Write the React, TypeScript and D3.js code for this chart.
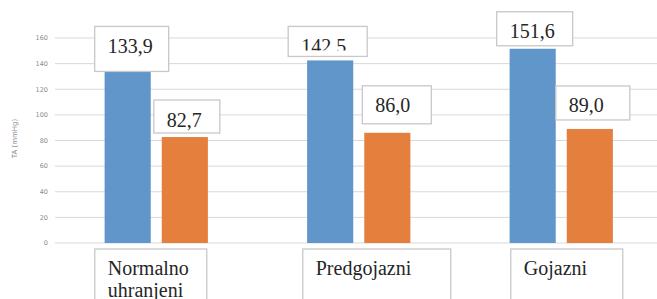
import { useEffect, useRef } from 'react'
import * as d3 from 'd3'

const categories = ['Normalno uhranjeni', 'Predgojazni', 'Gojazni']
const seriesNames = ['sistolni', 'dijastolni']
const systolic = [133.9, 142.5, 151.6]
const diastolic = [82.7, 86.0, 89.0]
const yTicks = [0, 20, 40, 60, 80, 100, 120, 140, 160]

// hand-placed label boxes (offsets from bar top centre): [dx, gap, w, h, visible text height]
const labelLayout = [
  [[4, 0, 74, 45, 45], [2, -4, 66, 33, 33]],
  [[-2.5, -4, 79, 30, 24], [9.5, -9, 69, 38, 38]],
  [[2, -3, 76, 34, 34], [3, -9, 74, 34, 34]]
]
// category label boxes: [dx from band centre, width]
const catLayout = [[-5.5, 112], [18, 148], [5.5, 112]]

const colors = ['#6096c9', '#e47f3e']

const App = () => {
  const svgRef = useRef<SVGSVGElement>(null)

  useEffect(() => {
    const W = 657
    const H = 299
    const svg = d3.select(svgRef.current)
    svg.selectAll('*').remove()
    svg.attr('width', W).attr('height', H)

    const x0 = d3.scaleBand<string>()
      .domain(categories)
      .range([55, 662.5])
      .paddingInner(0.49)
      .paddingOuter(0.245)

    const x1 = d3.scaleBand<string>()
      .domain(seriesNames)
      .range([0, x0.bandwidth()])
      .paddingInner(0.193)
      .paddingOuter(0)

    const y = d3.scaleLinear().domain([0, 160]).range([243, 38])

    // gridlines
    svg.append('g')
      .selectAll('line')
      .data(yTicks)
      .enter()
      .append('line')
      .attr('x1', 55)
      .attr('x2', W)
      .attr('y1', d => y(d))
      .attr('y2', d => y(d))
      .attr('stroke', '#d9d9d9')
      .attr('stroke-width', 1)

    svg.append('g')
      .selectAll('text')
      .data(yTicks)
      .enter()
      .append('text')
      .attr('x', 48)
      .attr('y', d => y(d))
      .attr('dy', '0.35em')
      .attr('text-anchor', 'end')
      .attr('font-family', 'DejaVu Sans')
      .attr('font-size', 6.5)
      .attr('fill', '#8c8c8c')
      .text(d => d)

    svg.append('text')
      .attr('transform', `translate(17,${y(80) - 2}) rotate(-90)`)
      .attr('text-anchor', 'middle')
      .attr('font-family', 'DejaVu Sans')
      .attr('font-size', 7)
      .attr('fill', '#8c8c8c')
      .text('TA (mmHg)')

    const series = [systolic, diastolic]
    const defs = svg.append('defs')

    categories.forEach((cat, i) => {
      const g = svg.append('g').attr('transform', `translate(${x0(cat)},0)`)
      series.forEach((vals, s) => {
        const bx = x1(seriesNames[s])!
        g.append('rect')
          .attr('x', bx)
          .attr('y', y(vals[i]))
          .attr('width', x1.bandwidth())
          .attr('height', y(0) - y(vals[i]))
          .attr('fill', colors[s])
      })
    })

    // data labels
    categories.forEach((cat, i) => {
      series.forEach((vals, s) => {
        const [dx, gap, w, h, vis] = labelLayout[i][s]
        const cx = x0(cat)! + x1(seriesNames[s])! + x1.bandwidth() / 2 + dx
        const bottom = y(vals[i]) + gap
        const left = cx - w / 2
        const top = bottom - h
        const id = `clip-${i}-${s}`
        defs.append('clipPath').attr('id', id)
          .append('rect')
          .attr('x', left)
          .attr('y', top)
          .attr('width', w)
          .attr('height', vis)
        svg.append('rect')
          .attr('x', left)
          .attr('y', top)
          .attr('width', w)
          .attr('height', h)
          .attr('fill', '#fff')
          .attr('stroke', '#c8c8c8')
          .attr('stroke-width', 1.3)
        svg.append('text')
          .attr('x', left + 13)
          .attr('y', top + 26.5)
          .attr('clip-path', `url(#${id})`)
          .attr('font-family', 'Liberation Serif')
          .attr('font-size', 20)
          .attr('fill', '#262626')
          .text(vals[i].toFixed(1).replace('.', ','))
      })
    })

    // category labels
    categories.forEach((cat, i) => {
      const [dx, w] = catLayout[i]
      const left = x0(cat)! + x0.bandwidth() / 2 + dx - w / 2
      const top = 249
      svg.append('rect')
        .attr('x', left)
        .attr('y', top)
        .attr('width', w)
        .attr('height', 70)
        .attr('fill', '#fff')
        .attr('stroke', '#c8c8c8')
        .attr('stroke-width', 1.3)
      const t = svg.append('text')
        .attr('font-family', 'Liberation Serif')
        .attr('font-size', 20)
        .attr('fill', '#262626')
      cat.split(' ').forEach((word, k) => {
        t.append('tspan')
          .attr('x', left + 13)
          .attr('y', top + 26 + k * 22)
          .text(word)
      })
    })
  }, [])

  return <svg ref={svgRef} style={{ position: 'absolute', left: 0, top: 0 }}></svg>
}

export default App
